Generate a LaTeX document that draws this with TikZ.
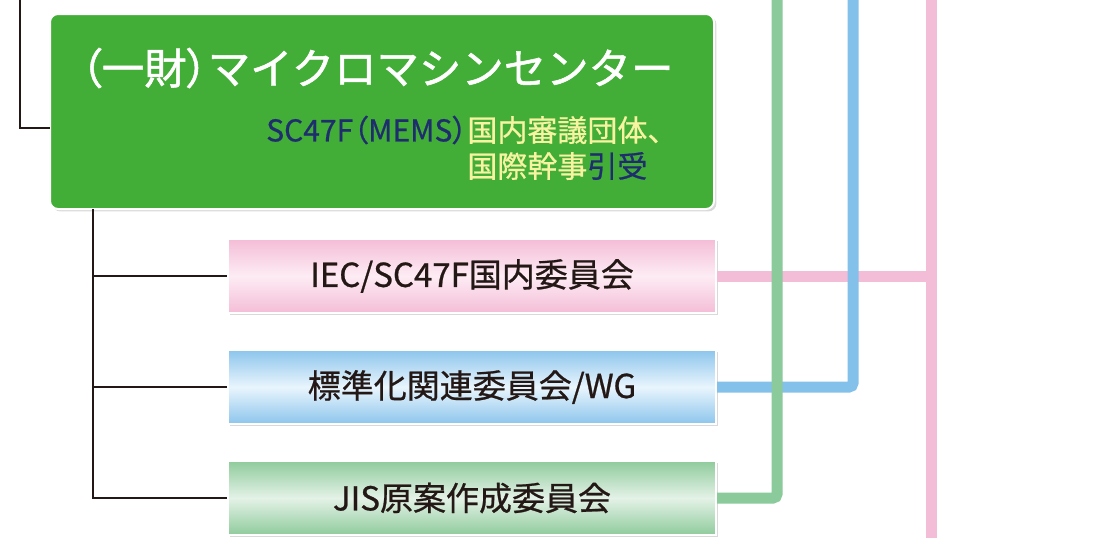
\documentclass[tikz,border=0pt]{standalone}
\usepackage{fontspec}
\setmainfont{Noto Sans CJK JP}
\newfontfamily\jpmid{Noto Sans CJK JP}[FakeBold=0.7]
\newfontfamily\jptitle{Noto Sans CJK JP}[FakeBold=1.2]
\newcommand\paltx[1]{{\addfontfeature{RawFeature=+palt}#1}}
\usetikzlibrary{shadows}

\definecolor{mmcGreen}{HTML}{43AE37}
\definecolor{mmcNavy}{HTML}{1F2D6E}
\definecolor{mmcYellow}{HTML}{F7F3A1}
\definecolor{textBlack}{HTML}{231815}
\definecolor{pinkDark}{HTML}{F4BDD7}
\definecolor{pinkLight}{HTML}{FDECF4}
\definecolor{blueDark}{HTML}{8CC5EC}
\definecolor{blueLight}{HTML}{E9F5FD}
\definecolor{greenDark}{HTML}{8FCB9C}
\definecolor{greenLight}{HTML}{E4F2E7}
\definecolor{linePink}{HTML}{F4BDD7}
\definecolor{lineBlue}{HTML}{84C1EA}
\definecolor{lineGreen}{HTML}{8BCA9A}

\begin{document}
\begin{tikzpicture}
[x=0.5pt,y=-0.5pt,
  mainDecorate/.style={shape=rectangle,rounded corners=4pt,draw=white,line width=1pt,
    fill=mmcGreen,minimum width=332pt,minimum height=97.5pt,inner sep=0pt,
    drop shadow={shadow xshift=1.2pt,shadow yshift=-1.2pt,opacity=0.3}},%
  subDecorate/.style={shape=rectangle,draw=white,line width=1pt,
    minimum width=244pt,minimum height=37pt,inner sep=0pt,
    font=\jpmid\fontsize{16.5}{18}\selectfont,text=textBlack,
    drop shadow={shadow xshift=1.2pt,shadow yshift=-1.2pt,opacity=0.3}},%
  textDecorate/.style={inner sep=0pt,font=\jpmid\fontsize{15}{17}\selectfont},%
  treeDecorate/.style={-,line width=0.8pt,draw=textBlack},%
  lineDecorate/.style={-,line width=5.5pt,rounded corners=2pt}]
\useasboundingbox (0,0) rectangle (1118,538);
%% main box
\node (center) at (382,111.5) [mainDecorate] {};
\node (title) at (377,68) [inner sep=0pt,text=white,font=\jptitle\fontsize{21.2}{23}\selectfont]
  {\paltx{（}一財\paltx{）}マイクロマシンセンター};
\node (subA) at (467,130) [anchor=west,textDecorate,text=mmcYellow]
  {\llap{\color{mmcNavy}SC47F\paltx{（}MEMS\paltx{）}}国内審議団体、};
\node (subB) at (467,166) [anchor=west,textDecorate,text=mmcYellow]
  {国際幹事{\color{mmcNavy}引受}};
%% committee boxes
\foreach \nodename/\y/\dark/\light/\label in {
  iec/276/pinkDark/pinkLight/{IEC/SC47F国内委員会},
  std/387/blueDark/blueLight/{標準化関連委員会/WG},
  jis/498/greenDark/greenLight/{JIS原案作成委員会}}
{
  \node (\nodename) at (472,\y) [subDecorate,top color=\dark,bottom color=\dark,middle color=\light] {\label};
}
%% tree lines
\coordinate (topEnd) at (20,0);
\coordinate (centerIn) at (50,128);
\coordinate (trunkTop) at (93,209);
\draw[treeDecorate] (topEnd) |- (centerIn);
\draw[treeDecorate] (trunkTop) |- (jis.west);
\foreach \nodename in {iec,std}
{
  \draw[treeDecorate] (trunkTop |- \nodename.west) -- (\nodename.west);
}
%% coloured lines
\coordinate (pinkTop) at (931,0);
\coordinate (pinkBottom) at (931,538);
\coordinate (blueTop) at (853,0);
\coordinate (greenTop) at (777,0);
\draw[lineDecorate,draw=linePink] (pinkTop) -- (pinkBottom);
\draw[lineDecorate,draw=linePink] (iec.east) -- (pinkTop |- iec.east);
\draw[lineDecorate,draw=lineBlue] (blueTop) |- (std.east);
\draw[lineDecorate,draw=lineGreen] (greenTop) |- (jis.east);
\end{tikzpicture}
\end{document}
